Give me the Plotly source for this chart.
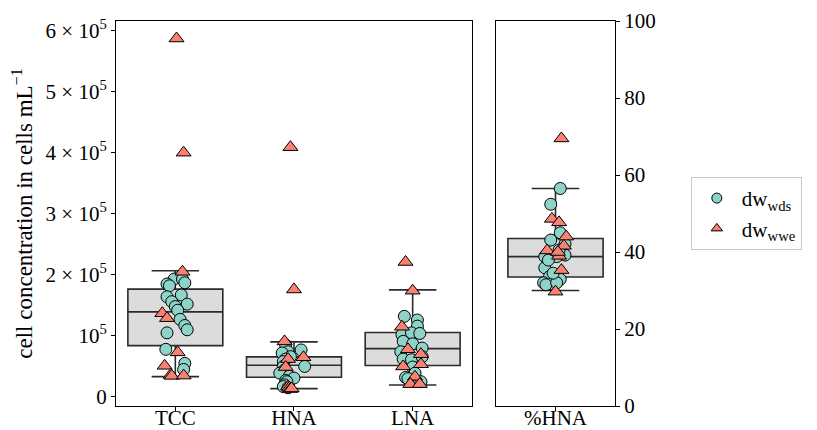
import plotly.graph_objects as go

# ---------------- data ----------------
categories = ["TCC", "HNA", "LNA"]
pct_category = ["%HNA"]

# box statistics
box_q1 = [0.841e5, 0.322e5, 0.514e5]
box_median = [1.393e5, 0.519e5, 0.792e5]
box_q3 = [1.766e5, 0.656e5, 1.055e5]
box_low = [0.333e5, 0.137e5, 0.197e5]
box_high = [2.066e5, 0.902e5, 1.754e5]

pct_q1 = [33.5]
pct_median = [38.8]
pct_q3 = [43.5]
pct_low = [30.0]
pct_high = [56.5]

# dw_wds (circles): values and strip jitter per category
wds_tcc = [1.93e5, 1.93e5, 1.85e5, 1.82e5, 1.87e5, 1.64e5, 1.67e5, 1.56e5, 1.52e5,
           1.48e5, 1.42e5, 1.27e5, 1.17e5, 1.10e5, 1.05e5, 0.78e5, 0.55e5, 0.45e5]
wds_tcc_jit = [-0.01, 0.06, -0.07, -0.05, 0.08, -0.07, 0.05, -0.03, 0.10,
               0.00, 0.02, 0.04, 0.08, 0.10, -0.07, -0.08, 0.08, 0.07]
wds_hna = [0.85e5, 0.77e5, 0.74e5, 0.72e5, 0.66e5, 0.62e5, 0.58e5, 0.50e5, 0.50e5,
           0.44e5, 0.39e5, 0.34e5, 0.31e5, 0.27e5, 0.25e5, 0.20e5, 0.17e5, 0.15e5]
wds_hna_jit = [-0.07, 0.06, -0.05, -0.10, -0.03, -0.07, -0.09, 0.09, -0.09,
               -0.08, -0.12, -0.04, 0.00, -0.07, -0.06, -0.08, -0.09, -0.05]
wds_lna = [1.32e5, 1.26e5, 1.16e5, 1.02e5, 1.05e5, 1.04e5, 0.91e5, 0.87e5, 0.80e5,
           0.74e5, 0.62e5, 0.61e5, 0.66e5, 0.49e5, 0.32e5, 0.39e5, 0.25e5, 0.30e5]
wds_lna_jit = [-0.07, 0.04, 0.04, -0.09, -0.01, 0.06, -0.08, 0.00, 0.08,
               -0.10, -0.08, -0.01, 0.08, 0.00, -0.06, 0.02, 0.07, -0.04]
wds_pct = [56.5, 52.4, 45.0, 43.1, 42.1, 38.8, 39.2, 38.8, 35.9,
           33.6, 32.9, 32.0, 31.7, 31.5, 32.0, 37.9, 40.5, 34.5]
wds_pct_jit = [0.04, -0.04, 0.04, -0.04, 0.08, -0.09, 0.08, 0.01, -0.09,
               -0.05, 0.04, -0.10, -0.03, -0.08, 0.01, -0.06, 0.03, -0.02]

# dw_wwe (triangles)
wwe_tcc = [5.87e5, 4.00e5, 2.05e5, 1.37e5, 1.29e5, 0.73e5, 0.51e5, 0.36e5, 0.345e5, 0.35e5]
wwe_tcc_jit = [0.01, 0.07, 0.06, -0.11, -0.07, 0.02, -0.09, -0.04, -0.03, 0.07]
wwe_hna = [4.09e5, 1.76e5, 0.91e5, 0.65e5, 0.62e5, 0.49e5, 0.17e5, 0.15e5, 0.13e5, 0.14e5]
wwe_hna_jit = [-0.03, 0.00, -0.08, 0.08, -0.05, -0.07, -0.05, -0.04, -0.03, -0.02]
wwe_lna = [2.21e5, 1.74e5, 1.15e5, 0.78e5, 0.70e5, 0.50e5, 0.535e5, 0.33e5, 0.21e5, 0.21e5]
wwe_lna_jit = [-0.06, 0.00, -0.09, -0.04, 0.07, -0.08, 0.07, 0.02, -0.02, 0.06]
wwe_pct = [69.5, 48.6, 47.7, 44.0, 41.6, 40.4, 39.0, 35.3, 29.7, 40.0]
wwe_pct_jit = [0.05, -0.03, 0.03, 0.09, 0.07, -0.07, 0.03, 0.05, 0.00, 0.02]

left_ticks = [0, 1e5, 2e5, 3e5, 4e5, 5e5, 6e5]
left_ticktext = ["0", "10<sup>5</sup>", "2 × 10<sup>5</sup>", "3 × 10<sup>5</sup>",
                 "4 × 10<sup>5</sup>", "5 × 10<sup>5</sup>", "6 × 10<sup>5</sup>"]
right_ticks = [0, 20, 40, 60, 80, 100]

# ---------------- styles ----------------
FONT = "Liberation Serif"
FS = 21
C_WDS = "#8dd3c7"
C_WWE = "#fb8072"
BOX_FILL = "#dcdcdc"
EDGE = "#2b2b2b"

fig = go.Figure()

fig.add_trace(go.Box(
    x=[0, 1, 2], q1=box_q1, median=box_median, q3=box_q3,
    lowerfence=box_low, upperfence=box_high,
    width=0.8, whiskerwidth=0.5, fillcolor=BOX_FILL,
    line=dict(color=EDGE, width=1.6), showlegend=False, hoverinfo="skip",
    xaxis="x", yaxis="y"))
fig.add_trace(go.Box(
    x=[0], q1=pct_q1, median=pct_median, q3=pct_q3,
    lowerfence=pct_low, upperfence=pct_high,
    width=0.8, whiskerwidth=0.5, fillcolor=BOX_FILL,
    line=dict(color=EDGE, width=1.6), showlegend=False, hoverinfo="skip",
    xaxis="x2", yaxis="y2"))

def strip(vals, jit, idx, color, symbol, size, xa, ya):
    return go.Scatter(
        x=[idx + j for j in jit], y=vals, mode="markers",
        marker=dict(color=color, symbol=symbol, size=size,
                    line=dict(color="black", width=1)),
        showlegend=False, hoverinfo="y", xaxis=xa, yaxis=ya)

wds_sets = [wds_tcc, wds_hna, wds_lna]
wds_jits = [wds_tcc_jit, wds_hna_jit, wds_lna_jit]
wwe_sets = [wwe_tcc, wwe_hna, wwe_lna]
wwe_jits = [wwe_tcc_jit, wwe_hna_jit, wwe_lna_jit]

for i in range(3):
    fig.add_trace(strip(wds_sets[i], wds_jits[i], i, C_WDS, "circle", 12, "x", "y"))
for i in range(3):
    fig.add_trace(strip(wwe_sets[i], wwe_jits[i], i, C_WWE, "triangle-up", 13, "x", "y"))
fig.add_trace(strip(wds_pct, wds_pct_jit, 0, C_WDS, "circle", 12, "x2", "y2"))
fig.add_trace(strip(wwe_pct, wwe_pct_jit, 0, C_WWE, "triangle-up", 13, "x2", "y2"))

# legend entries (small symbols like the reference)
for name, color, symbol in [("dw<sub>wds</sub>", C_WDS, "circle"),
                            ("dw<sub>wwe</sub>", C_WWE, "triangle-up")]:
    fig.add_trace(go.Scatter(x=[None], y=[None], mode="markers", name=name,
                             marker=dict(color=color, symbol=symbol, size=10,
                                         line=dict(color="black", width=1)),
                             xaxis="x", yaxis="y"))

axis_common = dict(showline=True, linecolor="black", linewidth=1, mirror=True,
                   ticks="outside", ticklen=4, tickcolor="black", showgrid=False,
                   zeroline=False, automargin=False,
                   tickfont=dict(family=FONT, size=FS, color="black"))

fig.update_layout(
    width=817, height=430,
    margin=dict(l=116, r=202, t=21, b=24, autoexpand=False),
    paper_bgcolor="white", plot_bgcolor="white",
    font=dict(family=FONT, size=FS, color="black"),
    xaxis=dict(domain=[0, 0.7134], range=[-0.5, 2.5], tickvals=[0, 1, 2],
               ticktext=categories, ticklabelstandoff=-11, **axis_common),
    yaxis=dict(range=[-14800, 615600], tickvals=left_ticks, ticktext=left_ticktext,
               title=dict(text="cell concentration in cells mL<sup>−1</sup>",
                          font=dict(family=FONT, size=23), standoff=6),
               **axis_common),
    xaxis2=dict(domain=[0.7615, 1], range=[-0.5, 0.5], tickvals=[0],
                ticktext=pct_category, anchor="y2", ticklabelstandoff=-11, **axis_common),
    yaxis2=dict(range=[0, 100], tickvals=right_ticks, side="right", anchor="x2",
                **axis_common),
    legend=dict(x=1.152, y=0.595, xanchor="left", yanchor="top",
                bordercolor="#c8c8c8", borderwidth=1, bgcolor="white",
                font=dict(family=FONT, size=FS), itemsizing="trace",
                tracegroupgap=0, itemwidth=40),
)

fig.write_html("out.html")
